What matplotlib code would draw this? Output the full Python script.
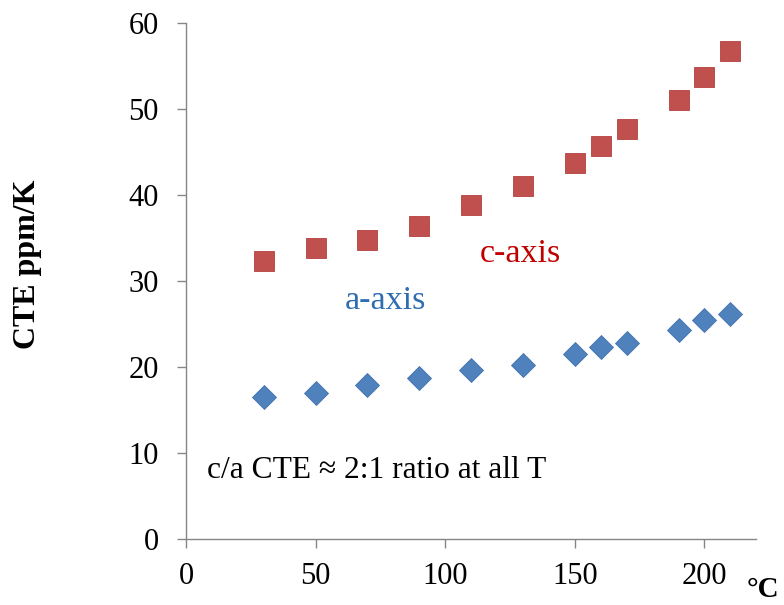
import matplotlib.pyplot as plt

# temperatur (derajat C)
suhu = [30, 50, 70, 90, 110, 130, 150, 160, 170, 190, 200, 210]
# CTE sumbu c dan sumbu a (ppm/K)
cte_c = [32.4, 33.9, 34.8, 36.4, 38.9, 41.1, 43.7, 45.7, 47.7, 51.1, 53.7, 56.8]
cte_a = [16.5, 17.0, 17.9, 18.8, 19.7, 20.3, 21.6, 22.4, 22.8, 24.3, 25.5, 26.2]

x_ticks = [0, 50, 100, 150, 200]
y_ticks = [0, 10, 20, 30, 40, 50, 60]

plt.rcParams['font.family'] = ['Liberation Serif', 'DejaVu Serif']

fig = plt.figure(figsize=(7.84, 6.05), dpi=100)
ax = fig.add_axes([0.2372, 0.1086, 0.9647 - 0.2372, 0.9615 - 0.1086])

# titik data
ax.plot(suhu, cte_c, linestyle='none', marker='s', markersize=14.5,
        color='#C0504D', markeredgecolor='#B5413E', markeredgewidth=0.6)
ax.plot(suhu, cte_a, linestyle='none', marker='D', markersize=12,
        color='#4F81BD', markeredgecolor='#4373AE', markeredgewidth=0.6)

ax.set_xlim(0, 220)
ax.set_ylim(0, 60)
ax.set_xticks(x_ticks)
ax.set_yticks(y_ticks)

# hanya spine kiri dan bawah
for s in ['top', 'right']:
    ax.spines[s].set_visible(False)
for s in ['left', 'bottom']:
    ax.spines[s].set_color('#868686')
    ax.spines[s].set_linewidth(1.0)
ax.tick_params(direction='out', length=6.5, width=1.0, color='#868686',
               labelsize=22)
ax.tick_params(axis='x', pad=10)
ax.tick_params(axis='y', pad=13)

# teks di dalam grafik
ax.text(129, 32.3, 'c-axis', color='#C00000', fontsize=24.5,
        ha='center', va='baseline')
ax.text(77, 26.8, 'a-axis', color='#2E6DB0', fontsize=24.5,
        ha='center', va='baseline')
ax.text(8.0, 7.15, 'c/a CTE \u2248 2:1 ratio at all T', color='black',
        fontsize=22.7, ha='left', va='baseline')

# label sumbu
fig.text(27.5 / 784, 1 - 264 / 605, 'CTE ppm/K', rotation=90, fontsize=23,
         fontweight='bold', ha='center', va='center')
fig.text(779 / 784, 1 - 597 / 605, '\u00b0C', fontsize=21,
         fontweight='bold', ha='right', va='baseline')

fig.savefig('out.png', dpi=100)
